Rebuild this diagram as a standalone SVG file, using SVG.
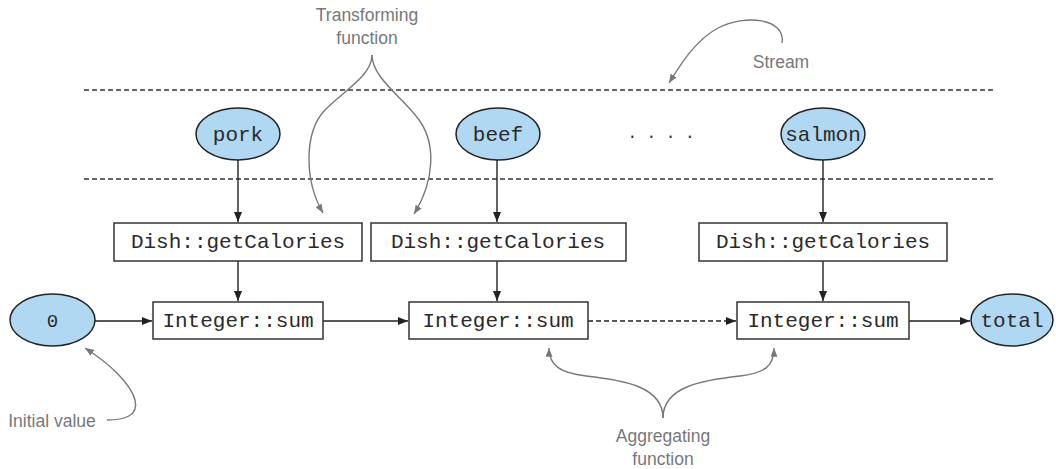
<svg xmlns="http://www.w3.org/2000/svg" width="1056" height="469" viewBox="0 0 1056 469">
<style>
.ell{fill:#b1d8f2;stroke:#222;stroke-width:1.5}
.box{fill:#fff;stroke:#333;stroke-width:1.5}
.mono{font-family:"Liberation Mono","Courier New",monospace;font-size:21px;fill:#2a2a2a;text-anchor:middle}
.note{font-family:"Liberation Sans",Arial,sans-serif;font-size:17.5px;fill:#77787b;text-anchor:middle}
.edge{fill:none;stroke:#222;stroke-width:1.4}
.gray{fill:none;stroke:#77787b;stroke-width:1.4}
.dash{fill:none;stroke:#333;stroke-width:1.3;stroke-dasharray:5,3}
</style>
<defs>
<marker id="ah" viewBox="0 0 10 8" refX="10" refY="4" markerWidth="10" markerHeight="8" markerUnits="userSpaceOnUse" orient="auto">
<path d="M0,0 L10,4 L0,8 z" fill="#222"/>
</marker>
<marker id="gh" viewBox="0 0 10 8" refX="10" refY="4" markerWidth="9" markerHeight="7" markerUnits="userSpaceOnUse" orient="auto">
<path d="M0,0 L10,4 L0,8 z" fill="#77787b"/>
</marker>
</defs>

<g id="stream-lines">
<line class="dash" x1="84" y1="90" x2="994" y2="90"/>
<line class="dash" x1="84" y1="179" x2="994" y2="179"/>
</g>

<g id="connectors">
<line class="edge" x1="238" y1="160" x2="238" y2="222" marker-end="url(#ah)"/>
<line class="edge" x1="497" y1="160" x2="497" y2="222" marker-end="url(#ah)"/>
<line class="edge" x1="823" y1="160" x2="823" y2="222" marker-end="url(#ah)"/>
<line class="edge" x1="238" y1="261" x2="238" y2="301" marker-end="url(#ah)"/>
<line class="edge" x1="497" y1="261" x2="497" y2="301" marker-end="url(#ah)"/>
<line class="edge" x1="823" y1="261" x2="823" y2="301" marker-end="url(#ah)"/>
<line class="edge" x1="95" y1="321" x2="152" y2="321" marker-end="url(#ah)"/>
<line class="edge" x1="323" y1="321" x2="408" y2="321" marker-end="url(#ah)"/>
<line class="edge" x1="588" y1="321" x2="736" y2="321" stroke-dasharray="5,3" marker-end="url(#ah)"/>
<line class="edge" x1="909" y1="321" x2="970" y2="321" marker-end="url(#ah)"/>
</g>

<g id="annotations">
<path class="gray" d="M372,55 C372,76 342,92 325,110 C304,132 304,180 323,213" marker-end="url(#gh)"/>
<path class="gray" d="M372,55 C372,76 398,94 416,116 C438,142 434,182 414,214" marker-end="url(#gh)"/>
<path class="gray" d="M782,43 C786,18 745,14 718,28 C696,40 682,62 669,83" marker-end="url(#gh)"/>
<path class="gray" d="M107,420 C124,420 139,416 135,400 C131,384 110,364 85,348" marker-end="url(#gh)"/>
<path class="gray" d="M663,418 C663,386 622,380 586,376 C561,373 549,366 549,348" marker-end="url(#gh)"/>
<path class="gray" d="M663,418 C663,386 704,380 740,376 C765,373 774,366 774,348" marker-end="url(#gh)"/>
<text class="note" x="367" y="21">Transforming</text>
<text class="note" x="367" y="44">function</text>
<text class="note" x="781" y="68">Stream</text>
<text class="note" x="52" y="427">Initial value</text>
<text class="note" x="663" y="442">Aggregating</text>
<text class="note" x="663" y="465">function</text>
</g>

<g id="node-pork"><ellipse class="ell" cx="238" cy="134" rx="42" ry="26"/><text class="mono" x="238" y="141">pork</text></g>
<g id="node-beef"><ellipse class="ell" cx="498" cy="134" rx="42" ry="26"/><text class="mono" x="498" y="141">beef</text></g>
<g id="node-dots"><text class="mono" x="661" y="138" style="font-size:16px">. . . .</text></g>
<g id="node-salmon"><ellipse class="ell" cx="823" cy="134" rx="42" ry="26"/><text class="mono" x="823" y="141">salmon</text></g>

<g id="node-dish1"><rect class="box" x="114" y="223" width="248" height="38"/><text class="mono" x="238" y="248">Dish::getCalories</text></g>
<g id="node-dish2"><rect class="box" x="371" y="223" width="255" height="38"/><text class="mono" x="498" y="248">Dish::getCalories</text></g>
<g id="node-dish3"><rect class="box" x="699" y="223" width="248" height="38"/><text class="mono" x="823" y="248">Dish::getCalories</text></g>

<g id="node-zero"><ellipse class="ell" cx="52.5" cy="320" rx="42.5" ry="26"/><text class="mono" x="52.5" y="327" style="font-size:19px">0</text></g>
<g id="node-sum1"><rect class="box" x="153" y="302" width="170" height="37"/><text class="mono" x="238" y="327">Integer::sum</text></g>
<g id="node-sum2"><rect class="box" x="409" y="302" width="179" height="37"/><text class="mono" x="498" y="327">Integer::sum</text></g>
<g id="node-sum3"><rect class="box" x="737" y="302" width="172" height="37"/><text class="mono" x="823" y="327">Integer::sum</text></g>
<g id="node-total"><ellipse class="ell" cx="1012" cy="320" rx="41" ry="26"/><text class="mono" x="1012" y="327">total</text></g>
</svg>
